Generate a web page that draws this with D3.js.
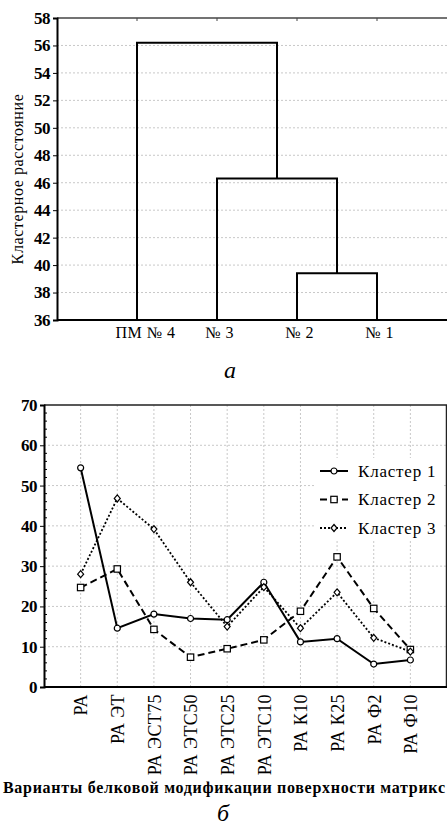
<!DOCTYPE html>
<html>
<head>
<meta charset="utf-8">
<script src="https://cdn.jsdelivr.net/npm/d3@7"></script>
<style>
  body { margin: 0; background: #fff; }
  svg, svg text { font-family: "Liberation Serif", "Times New Roman", "DejaVu Serif", serif !important; }
</style>
</head>
<body>
<div id="chart-container"></div>
<script>
// dendrogram (a)
const leaves = ['ПМ № 4', '№ 3', '№ 2', '№ 1']
const mergeHeights = [39.4, 46.3, 56.2] // (№2,№1), (№3,..), (ПМ №4,..)
const distTicks = d3.range(36, 59, 2)

// profiles (б)
const variants = ['РА', 'РА ЭТ', 'РА ЭСТ75', 'РА ЭТС50', 'РА ЭТС25', 'РА ЭТС10', 'РА К10', 'РА К25', 'РА Ф2', 'РА Ф10']
const seriesNames = ['Кластер 1', 'Кластер 2', 'Кластер 3']
const cluster1 = [54.4, 14.6, 18.1, 17.0, 16.7, 26.0, 11.2, 12.0, 5.7, 6.7]
const cluster2 = [24.7, 29.3, 14.3, 7.4, 9.5, 11.7, 18.8, 32.3, 19.5, 9.3]
const cluster3 = [28.0, 46.8, 39.2, 26.0, 15.0, 24.8, 14.6, 23.5, 12.2, 8.8]
const valueTicks = d3.range(0, 71, 10)

const width = 447
const height = 827
const svg = d3.select('#chart-container')
  .append('svg')
  .attr('width', width)
  .attr('height', height)

// ---------- top: dendrogram ----------
const t = { left: 57, right: 457, top: 18, bottom: 320 }
const xLeaf = d3.scalePoint().domain(leaves).range([t.left, t.right]).padding(1)
const yDist = d3.scaleLinear().domain([36, 58]).range([t.bottom, t.top])

const gTop = svg.append('g')
gTop.append('g')
  .selectAll('line')
  .data(distTicks.slice(1, -1))
  .join('line')
  .attr('x1', t.left).attr('x2', width)
  .attr('y1', d => yDist(d)).attr('y2', d => yDist(d))
  .attr('stroke', '#c8c8c8').attr('stroke-dasharray', '2,2')

gTop.append('line')
  .attr('x1', t.left).attr('x2', width)
  .attr('y1', t.top).attr('y2', t.top)
  .attr('stroke', '#444').attr('stroke-width', 1.5)
gTop.append('g')
  .selectAll('line')
  .data(leaves)
  .join('line')
  .attr('x1', d => xLeaf(d)).attr('x2', d => xLeaf(d))
  .attr('y1', t.top).attr('y2', t.top + 3)
  .attr('stroke', '#444')

const yAxisTop = gTop.append('g')
  .attr('transform', `translate(${t.left},0)`)
  .call(d3.axisLeft(yDist).tickValues(distTicks).tickSize(4).tickPadding(3))
yAxisTop.select('.domain').attr('stroke-width', 2)
yAxisTop.selectAll('text').attr('font-size', 17).attr('font-weight', 'bold').attr('letter-spacing', '-0.5')

const xAxisTop = gTop.append('g')
  .attr('transform', `translate(0,${t.bottom})`)
  .call(d3.axisBottom(xLeaf).tickSize(0).tickPadding(7))
xAxisTop.select('.domain').attr('stroke-width', 2).attr('d', `M${t.left},0H${width}`)
xAxisTop.selectAll('text').attr('font-size', 16).attr('letter-spacing', '0.5')
  .attr('dx', (d, i) => i === 0 ? 8 : 2)

// links
const l = leaves.map(d => xLeaf(d))
const mid21 = (l[2] + l[3]) / 2
const mid3 = (l[1] + mid21) / 2
const links = [
  [[l[2], 36], [l[2], mergeHeights[0]], [l[3], mergeHeights[0]], [l[3], 36]],
  [[l[1], 36], [l[1], mergeHeights[1]], [mid21, mergeHeights[1]], [mid21, mergeHeights[0]]],
  [[l[0], 36], [l[0], mergeHeights[2]], [mid3, mergeHeights[2]], [mid3, mergeHeights[1]]]
]
gTop.append('g')
  .selectAll('path')
  .data(links)
  .join('path')
  .attr('d', d3.line().x(d => d[0]).y(d => yDist(d[1])))
  .attr('fill', 'none').attr('stroke', '#000').attr('stroke-width', 2)

svg.append('text')
  .attr('transform', `translate(23,${(t.top + t.bottom) / 2 + 10}) rotate(-90)`)
  .attr('text-anchor', 'middle')
  .attr('font-size', 16)
  .attr('letter-spacing', '0.6')
  .text('Кластерное расстояние')

svg.append('text')
  .attr('x', 230).attr('y', 378)
  .attr('text-anchor', 'middle')
  .attr('font-size', 24).attr('font-style', 'italic')
  .text('а')

// ---------- bottom: profiles ----------
const b = { left: 44, right: 447, top: 405, bottom: 687 }
const xVar = d3.scalePoint().domain(variants).range([b.left, b.right]).padding(1)
const yVal = d3.scaleLinear().domain([0, 70]).range([b.bottom, b.top])

const gBot = svg.append('g')
gBot.append('g')
  .selectAll('line')
  .data(valueTicks.slice(1, -1))
  .join('line')
  .attr('x1', b.left).attr('x2', b.right)
  .attr('y1', d => yVal(d)).attr('y2', d => yVal(d))
  .attr('stroke', '#c8c8c8').attr('stroke-dasharray', '2,2')
gBot.append('g')
  .selectAll('line')
  .data(variants)
  .join('line')
  .attr('x1', d => xVar(d)).attr('x2', d => xVar(d))
  .attr('y1', b.top).attr('y2', b.bottom)
  .attr('stroke', '#c8c8c8').attr('stroke-dasharray', '2,2')

gBot.append('path')
  .attr('d', `M${b.left},${b.top}H${b.right - 0.5}V${b.bottom}`)
  .attr('fill', 'none').attr('stroke', '#222').attr('stroke-width', 1.5)

// minor ticks
gBot.append('g')
  .selectAll('line')
  .data(d3.range(2, 70, 2).filter(v => v % 10 !== 0))
  .join('line')
  .attr('x1', b.left).attr('x2', b.left + 3)
  .attr('y1', d => yVal(d)).attr('y2', d => yVal(d))
  .attr('stroke', '#000')

const yAxisBot = gBot.append('g')
  .attr('transform', `translate(${b.left},0)`)
  .call(d3.axisLeft(yVal).tickValues(valueTicks).tickSize(4).tickPadding(3))
yAxisBot.select('.domain').attr('stroke-width', 2)
yAxisBot.selectAll('text').attr('font-size', 17).attr('font-weight', 'bold').attr('letter-spacing', '-0.5')

const xAxisBot = gBot.append('g')
  .attr('transform', `translate(0,${b.bottom})`)
  .call(d3.axisBottom(xVar).tickSize(0))
xAxisBot.select('.domain').attr('stroke-width', 2).attr('d', `M${b.left},0H${b.right}`)
xAxisBot.selectAll('text')
  .attr('font-size', 18).attr('letter-spacing', '0.4')
  .attr('text-anchor', 'end')
  .attr('transform', 'rotate(-90)')
  .attr('x', -7).attr('y', 0).attr('dy', '0.35em')

const seriesData = [cluster1, cluster2, cluster3]
const dashes = [null, '7,4', '2,2']
const lineGen = d3.line().x((d, i) => xVar(variants[i])).y(d => yVal(d))

function marker (sel, k) {
  if (k === 0) {
    sel.append('circle').attr('r', 3)
  } else if (k === 1) {
    sel.append('rect').attr('x', -3.2).attr('y', -3.2).attr('width', 6.4).attr('height', 6.4)
  } else {
    sel.append('path').attr('d', 'M0,-3.5L3,0L0,3.5L-3,0Z')
  }
  sel.selectAll('*').attr('fill', '#fff').attr('stroke', '#000').attr('stroke-width', 1.2)
}

seriesData.forEach((vals, k) => {
  gBot.append('path')
    .datum(vals)
    .attr('d', lineGen)
    .attr('fill', 'none')
    .attr('stroke', '#000')
    .attr('stroke-width', k === 2 ? 1.8 : 2)
    .attr('stroke-dasharray', dashes[k])
  gBot.append('g')
    .selectAll('g')
    .data(vals)
    .join('g')
    .attr('transform', (d, i) => `translate(${xVar(variants[i])},${yVal(d)})`)
    .each(function () { marker(d3.select(this), k) })
})

// legend
const legend = gBot.append('g').attr('transform', 'translate(316,458)')
legend.append('rect').attr('width', 128).attr('height', 82).attr('fill', '#fff')
seriesNames.forEach((name, k) => {
  const row = legend.append('g').attr('transform', `translate(0,${13 + k * 28.5})`)
  row.append('line')
    .attr('x1', 4).attr('x2', 32)
    .attr('stroke', '#000').attr('stroke-width', 2)
    .attr('stroke-dasharray', dashes[k])
  const m = row.append('g').attr('transform', 'translate(18,0)')
  marker(m, k)
  row.append('text')
    .attr('x', 42).attr('dy', '0.35em')
    .attr('font-size', 17).attr('letter-spacing', '0.8')
    .text(name)
})

svg.append('text')
  .attr('x', 3).attr('y', 793)
  .attr('font-size', 16).attr('font-weight', 'bold')
  .attr('textLength', 442).attr('lengthAdjust', 'spacing')
  .text('Варианты белковой модификации поверхности матрикс')

svg.append('text')
  .attr('x', 223).attr('y', 821)
  .attr('text-anchor', 'middle')
  .attr('font-size', 24).attr('font-style', 'italic')
  .text('б')
</script>
</body>
</html>
